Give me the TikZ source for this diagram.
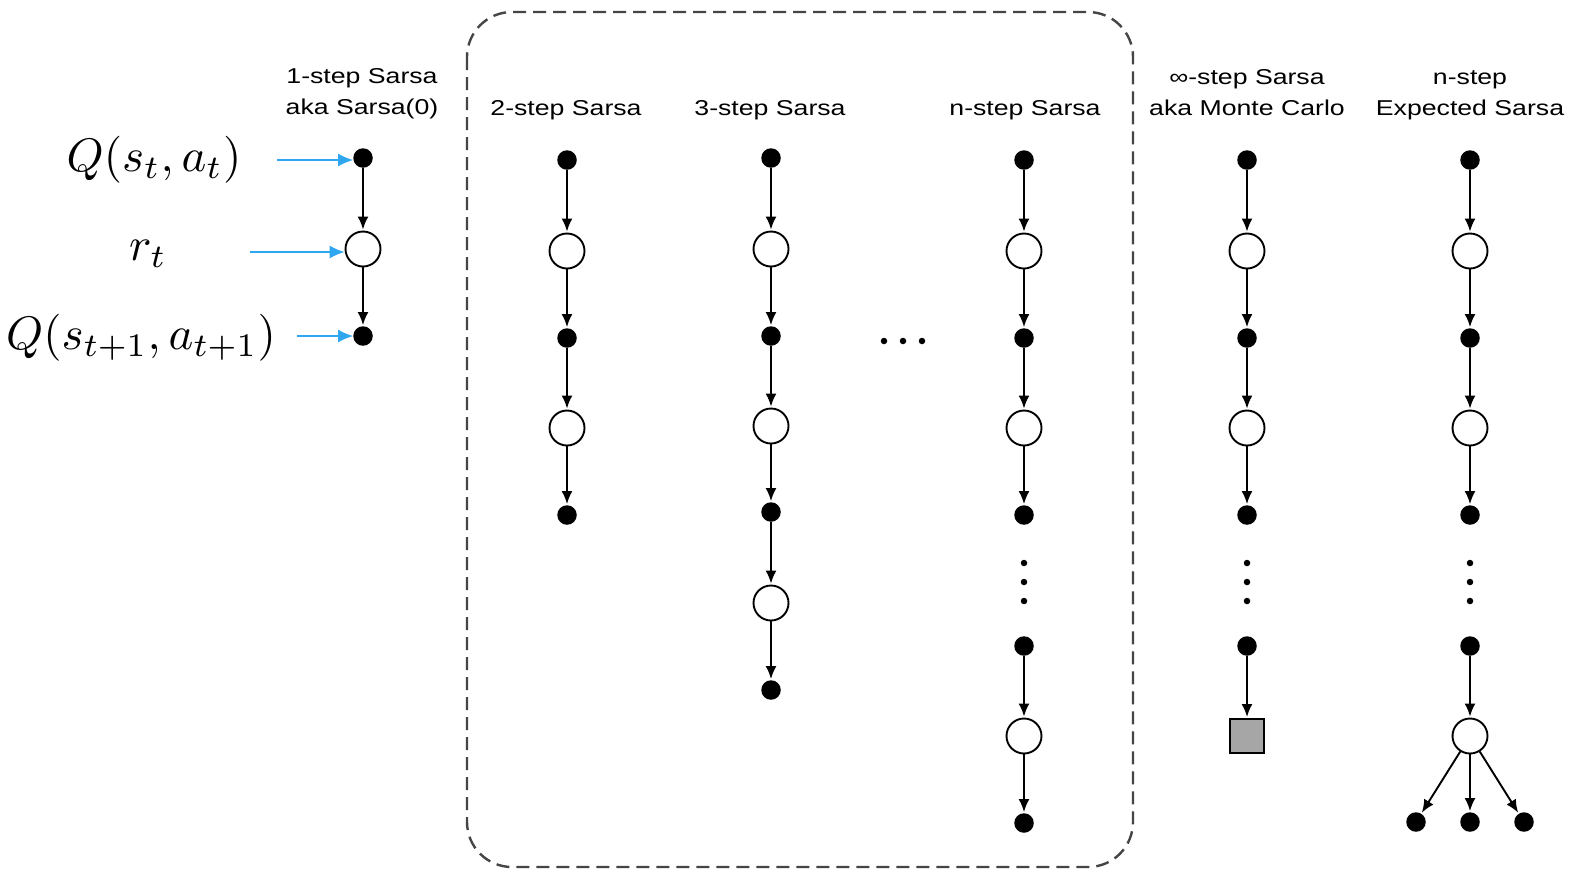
\documentclass[tikz,border=0pt]{standalone}
\usepackage{fontspec}
\usetikzlibrary{arrows.meta}
\newfontfamily\labfont[FakeStretch=1.24]{Liberation Sans}
\definecolor{pointer}{HTML}{2EA6F0}
\definecolor{boxgray}{HTML}{454545}
\definecolor{termfill}{HTML}{A6A6A6}
\tikzset{
  fdot/.style={circle, fill=black, minimum size=19.5pt, inner sep=0pt},
  odot/.style={circle, draw=black, fill=white, line width=1.9pt, minimum size=35pt, inner sep=0pt},
  sqbox/.style={rectangle, draw=black, fill=termfill, line width=2pt, minimum size=34pt, inner sep=0pt},
  tdot/.style={circle, fill=black, minimum size=6.5pt, inner sep=0pt},
  arr/.style={-{Latex[length=13pt,width=11pt]}, line width=1.9pt, shorten >=1pt},
  parr/.style={-{Latex[length=15pt,width=13pt]}, line width=1.4pt, draw=pointer, color=pointer},
  head/.style={font=\labfont\fontsize{21.5}{31}\selectfont, align=center, inner sep=0pt},
  mlab/.style={inner sep=0pt}
}
\newcommand{\biglab}[1]{\scalebox{4.7}{$#1$}}
\begin{document}
\begin{tikzpicture}[x=1pt,y=-1pt]
\useasboundingbox (0,0) rectangle (1571,871);
\fill[white] (0,0) rectangle (1571,871);

% dashed frame around the n-step family
\draw[boxgray, line width=2.4pt, dash pattern=on 13pt off 7pt, rounded corners=45pt]
  (467,12) rectangle (1133,867);

% column headings
\node[head] (h1) at (362,94) {1-step Sarsa\\aka Sarsa(0)};
\node[head] (h2) at (566,110) {2-step Sarsa};
\node[head] (h3) at (770,110) {3-step Sarsa};
\node[head] (h4) at (1025,110) {n-step Sarsa};
\node[head] (h5) at (1247,93) {∞-step Sarsa\\aka Monte Carlo};
\node[head] (h6) at (1470,95) {n-step\\Expected Sarsa};

% 1-step Sarsa
\node[fdot] (a1) at (363,158) {};
\node[odot] (a2) at (363,249) {};
\node[fdot] (a3) at (363,336) {};
\foreach \i/\j in {1/2,2/3} \draw[arr] (a\i) -- (a\j);

% 2-step Sarsa
\node[fdot] (b1) at (567,160) {};
\node[odot] (b2) at (567,251) {};
\node[fdot] (b3) at (567,338) {};
\node[odot] (b4) at (567,428) {};
\node[fdot] (b5) at (567,515) {};
\foreach \i/\j in {1/2,2/3,3/4,4/5} \draw[arr] (b\i) -- (b\j);

% 3-step Sarsa
\node[fdot] (c1) at (771,158) {};
\node[odot] (c2) at (771,249) {};
\node[fdot] (c3) at (771,336) {};
\node[odot] (c4) at (771,426) {};
\node[fdot] (c5) at (771,512) {};
\node[odot] (c6) at (771,603) {};
\node[fdot] (c7) at (771,690) {};
\foreach \i/\j in {1/2,2/3,3/4,4/5,5/6,6/7} \draw[arr] (c\i) -- (c\j);

% horizontal ellipsis between 3-step and n-step
\node[tdot] (e1) at (884,341) {};
\node[tdot] (e2) at (903,341) {};
\node[tdot] (e3) at (922,341) {};

% n-step Sarsa, MC and n-step Expected Sarsa share the upper chain
\foreach \col/\x in {d/1024,e/1247,f/1470}{
  \node[fdot] (\col1) at (\x,160) {};
  \node[odot] (\col2) at (\x,251) {};
  \node[fdot] (\col3) at (\x,338) {};
  \node[odot] (\col4) at (\x,428) {};
  \node[fdot] (\col5) at (\x,515) {};
  \node[tdot] (\col v1) at (\x,563) {};
  \node[tdot] (\col v2) at (\x,582) {};
  \node[tdot] (\col v3) at (\x,601) {};
  \node[fdot] (\col6) at (\x,646) {};
  \foreach \i/\j in {1/2,2/3,3/4,4/5} \draw[arr] (\col\i) -- (\col\j);
}

% n-step Sarsa tail
\node[odot] (d7) at (1024,736) {};
\node[fdot] (d8) at (1024,823) {};
\draw[arr] (d6) -- (d7);
\draw[arr] (d7) -- (d8);

% Monte Carlo terminal
\node[sqbox] (e7) at (1247,736) {};
\draw[arr] (e6) -- (e7);

% Expected Sarsa branching
\node[odot] (f7) at (1470,736) {};
\node[fdot] (f8) at (1416,822) {};
\node[fdot] (f9) at (1470,822) {};
\node[fdot] (f10) at (1524,822) {};
\draw[arr] (f6) -- (f7);
\foreach \k in {8,9,10} \draw[arr] (f7) -- (f\k);

% annotations on the 1-step backup
\node[mlab] (q1) at (154,160) {\biglab{Q(s_t,a_t)}};
\node[mlab] (r1) at (148,254) {\biglab{r_t}};
\node[mlab] (q2) at (141,338) {\biglab{Q(s_{t+1},a_{t+1})}};
\coordinate (p1) at (277,160);
\coordinate (p2) at (250,252);
\coordinate (p3) at (297,336);
\draw[parr] (p1) -- (p1 -| a1.west);
\draw[parr] (p2) -- (p2 -| a2.west);
\draw[parr] (p3) -- (p3 -| a3.west);
\end{tikzpicture}
\end{document}
